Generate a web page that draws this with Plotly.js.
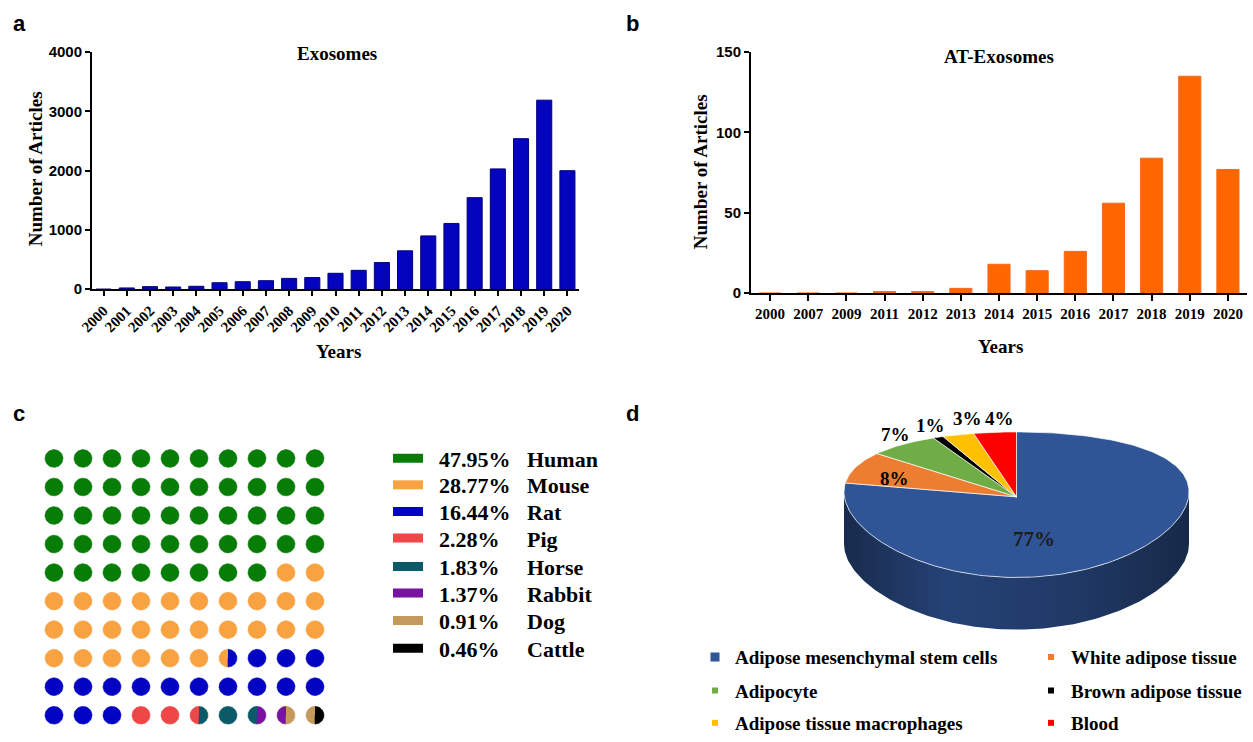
<!DOCTYPE html>
<html><head><meta charset="utf-8">
<script src="https://cdn.plot.ly/plotly-3.0.1.min.js"></script>
<style>html,body{margin:0;padding:0;background:#fff;}#chart{width:1253px;height:742px;}</style>
</head><body><div id="chart"></div>
<script>
// ---------------- DATA ----------------
// Panel a: Exosomes
const yearsA = ['2000','2001','2002','2003','2004','2005','2006','2007','2008','2009','2010',
                '2011','2012','2013','2014','2015','2016','2017','2018','2019','2020'];
const articlesA = [0,22,44,38,50,110,127,144,183,197,269,319,450,648,900,1110,1545,2030,2540,3190,2000];
// Panel b: AT-Exosomes
const yearsB = ['2000','2007','2009','2011','2012','2013','2014','2015','2016','2017','2018','2019','2020'];
const articlesB = [0,0,0,1,1,3,18,14,26,56,84,135,77];
// Panel c: species
const speciesNames = ['Human','Mouse','Rat','Pig','Horse','Rabbit','Dog','Cattle'];
const speciesPct = [47.95,28.77,16.44,2.28,1.83,1.37,0.91,0.46];
// Panel d: sources
const sourceNames = ['Adipose mesenchymal stem cells','White adipose tissue','Adipocyte',
                     'Brown adipose tissue','Adipose tissue macrophages','Blood'];
const sourcePct = [77,8,7,1,3,4];

// ---------------- STYLE ----------------
const W = 1253, H = 742;
const SERIF = '"Liberation Serif","Times New Roman",serif';
const SANS = '"Liberation Sans",Arial,sans-serif';
const px = x => x / W;
const py = y => 1 - y / H;
const speciesColors = ['#077D07','#F8A241','#0303C4','#EF4747','#0A5A68','#7812A0','#C49A5C','#000000'];
const sourceColors = ['#2F5597','#ED7D31','#70AD47','#000000','#FFC000','#FF0000'];
function shade(hex, f){
  const n = parseInt(hex.slice(1),16);
  const r = Math.round(((n>>16)&255)*f), g = Math.round(((n>>8)&255)*f), b = Math.round((n&255)*f);
  return 'rgb('+r+','+g+','+b+')';
}
const traces = [];
const legends = {};
let legendCount = 0;
function newLegendKey(){ legendCount++; return legendCount === 1 ? 'legend' : 'legend' + legendCount; }

// Panel a bars
traces.push({type:'bar', x:yearsA, y:articlesA, xaxis:'x', yaxis:'y', width:0.65,
  marker:{color:'#0404BE', line:{color:'#00007A', width:1}}, showlegend:false, hoverinfo:'x+y'});
// Panel b bars
traces.push({type:'bar', x:yearsB, y:articlesB, xaxis:'x2', yaxis:'y2', width:0.58,
  marker:{color:'#FF6600', line:{color:'#F26A1B', width:1}}, showlegend:false, hoverinfo:'x+y'});

// Panel c waffle (10 x 10 dots, each dot = 1 %)
const DOT_R = 0.31, NPT = 48;
const cum = []; { let s = 0; speciesPct.forEach(p => { cum.push([s, s + p]); s += p; }); }
const wx = speciesNames.map(() => []), wy = speciesNames.map(() => []);
function addArc(i, cx, cy, t0, t1){
  for (let k = 0; k <= NPT; k++){
    const t = t0 + (t1 - t0) * k / NPT;
    wx[i].push(cx + DOT_R * Math.cos(t)); wy[i].push(cy + DOT_R * Math.sin(t));
  }
  if (Math.abs(t1 - t0) < 2*Math.PI - 1e-6){ wx[i].push(cx); wy[i].push(cy); }
  wx[i].push(null); wy[i].push(null);
}
for (let k = 0; k < 100; k++){
  const shares = cum.map(([a,b]) => Math.max(0, Math.min(b, k+1) - Math.max(a, k)));
  let parts = shares.map((v,i) => ({i, v})).filter(o => o.v >= 0.25);
  if (!parts.length){ let m = 0; shares.forEach((v,i) => { if (v > shares[m]) m = i; }); parts = [{i:m}]; }
  const cx = k % 10, cy = Math.floor(k / 10);
  if (parts.length === 1) addArc(parts[0].i, cx, cy, 0, 2*Math.PI);
  else { addArc(parts[0].i, cx, cy, Math.PI/2, 3*Math.PI/2); addArc(parts[1].i, cx, cy, -Math.PI/2, Math.PI/2); }
}
speciesNames.forEach((nm, i) => {
  traces.push({type:'scatter', mode:'lines', x:wx[i], y:wy[i], xaxis:'x3', yaxis:'y3',
    fill:'toself', fillcolor:speciesColors[i], line:{width:0.6, color:speciesColors[i]},
    showlegend:false, name:nm, hoverinfo:'name'});
});
// legend entries for c (one row each)
const cRows = [466,493,520,547,576,603,631,659];
speciesNames.forEach((nm, i) => {
  const key = newLegendKey();
  const pct = speciesPct[i].toFixed(2) + '%';
  const pad = pct.length < 6 ? '\u2002' : '';
  traces.push({type:'scatter', mode:'lines', x:[null], y:[null], xaxis:'x3', yaxis:'y3',
    line:{color:speciesColors[i], width:9}, name: '\u00a0\u00a0' + pct + pad + '\u00a0\u00a0\u00a0' + nm,
    legend:key, showlegend:true});
  legends[key] = {x:px(388), xanchor:'left', y:py(cRows[i]), yanchor:'middle', bgcolor:'rgba(0,0,0,0)',
    font:{family:SERIF, size:22, color:'#000', weight:'bold'}};
});

// Panel d: 3D pie built from slices (pixel-based drawing frame)
const PIE = {cx:1016.5, apexY:505, rx:172.5, wideY:500, back:61, front:87, depth:53};
const B = (PIE.back + PIE.front) / 2, C = (PIE.front - PIE.back) / 2;
const rimX = t => PIE.cx + PIE.rx * Math.sin(t);
const rimY = t => PIE.wideY - B * Math.cos(t) + C * Math.cos(t) * Math.cos(t);
const total = sourcePct.reduce((a,b) => a + b, 0);
const ang = []; { let s = 0; sourcePct.forEach(v => { ang.push([s/total*2*Math.PI, (s+v)/total*2*Math.PI]); s += v; }); }
const NARC = 140;
// side walls (front half only)
sourceNames.forEach((nm, i) => {
  const a = Math.max(ang[i][0], Math.PI/2), b = Math.min(ang[i][1], 3*Math.PI/2);
  if (b <= a) return;
  const xs = [], ys = [];
  for (let k = 0; k <= NARC; k++){ const t = a + (b-a)*k/NARC; xs.push(rimX(t)); ys.push(rimY(t)); }
  for (let k = NARC; k >= 0; k--){ const t = a + (b-a)*k/NARC; xs.push(rimX(t)); ys.push(rimY(t) + PIE.depth); }
  traces.push({type:'scatter', mode:'lines', x:xs, y:ys, xaxis:'x4', yaxis:'y4', fill:'toself',
    fillgradient:{type:'horizontal', colorscale:[[0, shade(sourceColors[i],0.5)],[0.3, shade(sourceColors[i],0.78)],[0.65, shade(sourceColors[i],0.68)],[1, shade(sourceColors[i],0.48)]]},
    line:{width:0}, showlegend:false, hoverinfo:'skip'});
});
// top faces
sourceNames.forEach((nm, i) => {
  const [a,b] = ang[i];
  const xs = [PIE.cx], ys = [PIE.apexY];
  const n = Math.max(4, Math.round(NARC*(b-a)/Math.PI));
  for (let k = 0; k <= n; k++){ const t = a + (b-a)*k/n; xs.push(rimX(t)); ys.push(rimY(t)); }
  xs.push(PIE.cx); ys.push(PIE.apexY);
  traces.push({type:'scatter', mode:'lines', x:xs, y:ys, xaxis:'x4', yaxis:'y4', fill:'toself',
    fillcolor:sourceColors[i], line:{width:0.8, color:'rgba(255,255,255,0.85)'},
    showlegend:false, name:nm, hoverinfo:'name'});
});
// legend entries for d (one small legend per entry, 2 columns)
const dCols = [735, 1071], dRows = [668, 702, 735];
sourceNames.forEach((nm, i) => {
  const key = newLegendKey();
  traces.push({type:'scatter', mode:'markers', x:[null], y:[null], xaxis:'x4', yaxis:'y4',
    marker:{symbol:'square', size: i === 0 ? 9 : 6, color:sourceColors[i]}, name:nm, legend:key, showlegend:true});
  legends[key] = {x: px(dCols[i % 2] - 40), xanchor:'left', y: py(dRows[Math.floor(i/2)]), yanchor:'middle',
    bgcolor:'rgba(0,0,0,0)', font:{family:SERIF, size:19, color:'#000', weight:'bold'}};
});

// ---------------- LAYOUT ----------------
const axisCommon = {showline:true, linewidth:2, linecolor:'#000', ticks:'outside', ticklen:5, tickwidth:2,
  tickcolor:'#000', showgrid:false, zeroline:false, fixedrange:true};
const ann = [];
function label(text, x, y, size, opts){
  ann.push(Object.assign({text, x:px(x), y:py(y), xref:'paper', yref:'paper', showarrow:false,
    xanchor:'center', yanchor:'middle', font:{family:SERIF, size, color:'#000', weight:'bold'}}, opts || {}));
}
const letterFont = {family:SANS, size:22, color:'#000', weight:'bold'};
label('a', 19, 24, 22, {font:letterFont});
label('b', 632, 24, 22, {font:letterFont});
label('c', 19, 420, 22, {font:letterFont});
label('d', 632, 420, 22, {font:letterFont});
label('Exosomes', 337, 54, 19);
label('AT-Exosomes', 999, 57, 19);
label('Years', 338, 357, 19);
label('Years', 1000, 352, 19);
label('Number of Articles', 35, 172, 19, {textangle:-90});
label('Number of Articles', 700, 175, 19, {textangle:-90});
// pie percentage labels
const pieLabelPos = [[1034,548],[894,486],[895,442],[930,432],[967,425],[999,425]];
sourcePct.forEach((v, i) => {
  label(v + '%', pieLabelPos[i][0], pieLabelPos[i][1], i === 0 ? 21 : 19,
    i === 0 ? {font:{family:SERIF, size:21, color:'#1c1c1c', weight:'bold'}} : {});
});

const layout = Object.assign({
  width:W, height:H, autosize:false, margin:{l:0,r:0,t:0,b:0},
  paper_bgcolor:'#fff', plot_bgcolor:'rgba(0,0,0,0)', hovermode:'closest',
  xaxis: Object.assign({}, axisCommon, {domain:[px(92), px(579)], anchor:'y', type:'category', range:[-0.5,20.5],
    tickangle:-45, tickfont:{family:SERIF, size:15, color:'#000', weight:'bold'}}),
  yaxis: Object.assign({}, axisCommon, {domain:[py(294), py(53)], anchor:'x', range:[0,4000], tick0:0, dtick:1000,
    tickfont:{family:SANS, size:15, color:'#000', weight:'bold'}}),
  xaxis2: Object.assign({}, axisCommon, {domain:[px(751), px(1247)], anchor:'y2', type:'category', range:[-0.5,12.5],
    tickangle:0, ticklen:6, tickfont:{family:SERIF, size:15, color:'#000', weight:'bold'}}),
  yaxis2: Object.assign({}, axisCommon, {domain:[py(298), py(53)], anchor:'x2', range:[0,150], tick0:0, dtick:50,
    tickfont:{family:SANS, size:15, color:'#000', weight:'bold'}}),
  xaxis3: {domain:[px(39.5), px(329.5)], anchor:'y3', range:[-0.5,9.5], visible:false, fixedrange:true},
  yaxis3: {domain:[py(741.5), py(451.5)], anchor:'x3', range:[9.5,-0.5], visible:false, fixedrange:true},
  xaxis4: {domain:[px(700), 1], anchor:'y4', range:[700, W], visible:false, fixedrange:true},
  yaxis4: {domain:[0, py(400)], anchor:'x4', range:[H, 400], visible:false, fixedrange:true},
  annotations: ann
}, legends);

Plotly.newPlot('chart', traces, layout, {displayModeBar:false, responsive:false});
</script></body></html>
